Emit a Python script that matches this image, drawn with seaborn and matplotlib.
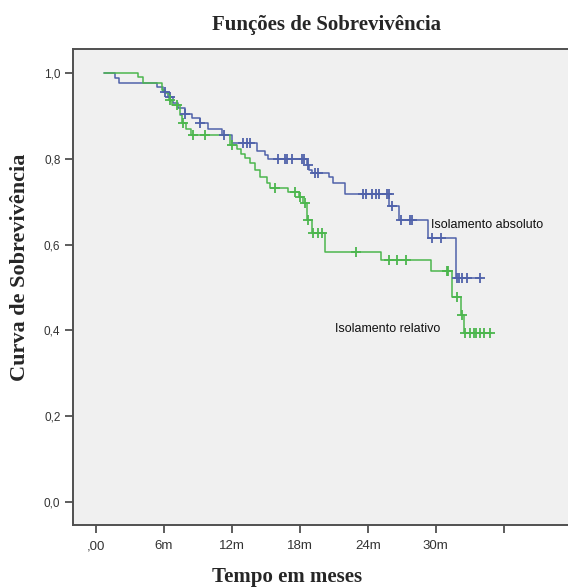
import numpy as np
import pandas as pd
import matplotlib
matplotlib.use("Agg")
import matplotlib.pyplot as plt
import seaborn as sns

# ---- data ----
groups = ["Isolamento absoluto", "Isolamento relativo"]

abs_times = [0.7, 1.7, 2.0, 5.4, 5.9, 6.35, 6.8, 7.25, 7.85, 8.5, 9.2, 9.9, 11.1, 12.0,
             14.2, 14.9, 15.2, 18.6, 18.8, 19.1, 20.6, 20.9, 22.0, 25.9, 26.8, 29.3, 31.8]
abs_surv = [1.0, 0.988, 0.977, 0.967, 0.956, 0.944, 0.930, 0.918, 0.904, 0.895, 0.883, 0.869, 0.855, 0.836,
            0.818, 0.810, 0.800, 0.785, 0.775, 0.767, 0.758, 0.744, 0.718, 0.690, 0.657, 0.615, 0.522]
abs_cens = [6.1, 6.5, 7.9, 9.2, 11.3, 13.0, 13.3, 13.6, 16.1, 16.7, 16.9, 17.3, 18.2, 18.4, 18.7, 19.3, 19.6,
            23.6, 23.8, 24.4, 24.7, 25.0, 25.7, 25.85, 26.1, 26.9, 27.7, 27.9, 29.7, 30.5,
            31.9, 32.1, 32.3, 32.8, 33.9]
abs_end = 34.0

rel_times = [0.7, 3.7, 4.15, 5.8, 6.1, 6.45, 6.7, 7.4, 7.6, 7.95, 8.4, 11.8, 12.45, 12.8, 13.15,
             13.6, 14.0, 14.5, 15.1, 15.35, 16.95, 17.9, 18.25, 18.6, 19.05, 20.2, 25.15, 29.55,
             31.4, 32.2, 32.5]
rel_surv = [1.0, 0.990, 0.977, 0.960, 0.953, 0.937, 0.925, 0.902, 0.883, 0.869, 0.855, 0.832, 0.823,
            0.811, 0.802, 0.790, 0.774, 0.758, 0.744, 0.732, 0.723, 0.711, 0.697, 0.657, 0.627, 0.583,
            0.564, 0.538, 0.478, 0.436, 0.394]
rel_cens = [6.55, 7.15, 7.7, 8.55, 9.6, 12.0, 15.8, 17.6, 18.0, 18.5, 18.7, 19.15, 19.6, 19.95,
            23.0, 25.9, 26.6, 27.4, 31.0, 31.1, 31.85, 32.3, 32.6, 33.0, 33.4, 33.6, 33.9, 34.3, 34.8]
rel_end = 34.9

tick_pos = [0, 6, 12, 18, 24, 30, 36]
tick_labels = [",00", "6m", "12m", "18m", "24m", "30m", ""]
ytick_pos = [0.0, 0.2, 0.4, 0.6, 0.8, 1.0]
ytick_labels = ["0,0", "0,2", "0,4", "0,6", "0,8", "1,0"]

colors = {"Isolamento absoluto": "#5062aa", "Isolamento relativo": "#4cb64e"}

# ---- build tables ----
def curve_df(name, times, surv, end):
    t = list(times) + [end]
    s = list(surv) + [surv[-1]]
    return pd.DataFrame({"group": name, "time": t, "surv": s})

def cens_df(name, times, surv, cens):
    idx = np.searchsorted(np.array(times), np.array(cens), side="right") - 1
    return pd.DataFrame({"group": name, "time": cens, "surv": np.array(surv)[idx]})

curves = pd.concat([curve_df(groups[0], abs_times, abs_surv, abs_end),
                    curve_df(groups[1], rel_times, rel_surv, rel_end)], ignore_index=True)
cens = pd.concat([cens_df(groups[0], abs_times, abs_surv, abs_cens),
                  cens_df(groups[1], rel_times, rel_surv, rel_cens)], ignore_index=True)

# ---- style ----
sns.set_theme(style="ticks", rc={"axes.facecolor": "#f0f0f0", "figure.facecolor": "white",
                                 "axes.edgecolor": "#505050", "xtick.color": "#505050",
                                 "ytick.color": "#505050"})
plt.rcParams["font.family"] = ["Liberation Sans", "DejaVu Sans"]

W, H = 568, 588
fig = plt.figure(figsize=(W / 100, H / 100), dpi=100)
ax = fig.add_axes([73 / W, 1 - 525 / H, (575 - 73) / W, (525 - 49) / H])

sns.lineplot(data=curves, x="time", y="surv", hue="group", palette=colors,
             drawstyle="steps-post", estimator=None, sort=False, legend=False,
             linewidth=1.1, ax=ax)
for g in groups:
    sub = cens[cens["group"] == g]
    sns.scatterplot(data=sub, x="time", y="surv", color=colors[g], marker="+",
                    s=45, linewidth=1.3, legend=False, ax=ax, zorder=3)

ax.set_xlim(-2.03, 42.3)
ax.set_ylim(-0.0536, 1.056)
ax.set_xticks(tick_pos)
ax.set_xticklabels(tick_labels, fontsize=9.5, color="#333333")
ax.set_yticks(ytick_pos)
ax.set_yticklabels(ytick_labels, fontsize=8.5, color="#333333")
ax.tick_params(axis="both", length=6, width=1.3, pad=3)
ax.tick_params(axis="x", pad=5)
for sp in ax.spines.values():
    sp.set_linewidth(1.4)
    sp.set_color("#505050")
ax.set_xlabel("")
ax.set_ylabel("")

ax.text(29.6, 0.645, "Isolamento absoluto", fontsize=9, color="#111111",
        ha="left", va="center")
ax.text(21.1, 0.403, "Isolamento relativo", fontsize=9, color="#111111",
        ha="left", va="center")

serif = ["Liberation Serif", "DejaVu Serif"]
fig.text(326 / W, 1 - 25 / H, "Funções de Sobrevivência", family=serif,
         fontsize=15, fontweight="bold", ha="center", va="center")
fig.text(287 / W, 1 - 577 / H, "Tempo em meses", family=serif,
         fontsize=15, fontweight="bold", ha="center", va="center")
fig.text(20 / W, 1 - 267 / H, "Curva de Sobrevivência", family=serif,
         fontsize=16, fontweight="bold", ha="center", va="center", rotation=90)

fig.savefig("out.png", dpi=100)
